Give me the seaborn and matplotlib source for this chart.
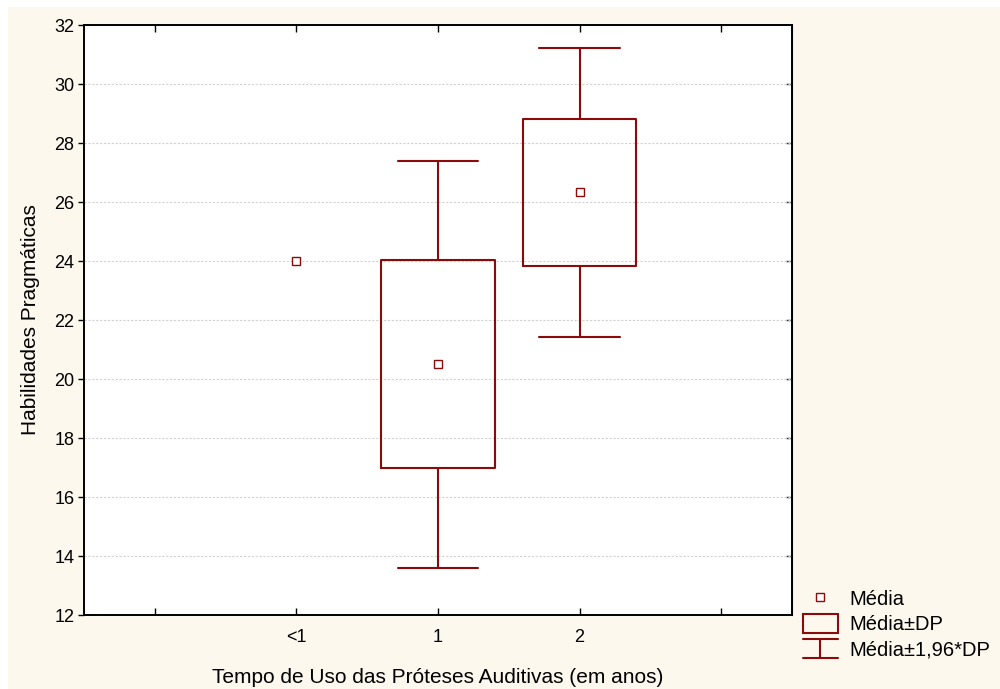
import numpy as np
import pandas as pd
import matplotlib
matplotlib.use('Agg')
import matplotlib.pyplot as plt
from matplotlib.patches import Rectangle
from matplotlib.lines import Line2D
from matplotlib.legend_handler import HandlerBase
import seaborn as sns

# ================== Data ==================
grupos = ['<1', '1', '2']
medias = [24.0, 20.5, 26.33]
# desvio padrao (grupo <1 tem um so caso, sem caixa)
desvios = [np.nan, 3.52, 2.5]

titulo_x = 'Tempo de Uso das Próteses Auditivas (em anos)'
titulo_y = 'Habilidades Pragmáticas'
yticks = [12, 14, 16, 18, 20, 22, 24, 26, 28, 30, 32]

# ================== Style ==================
vermelho = '#8b0a0a'
creme = '#fdf8ee'
sns.set_style('white')
plt.rcParams['font.family'] = ['Liberation Sans', 'DejaVu Sans']
plt.rcParams['font.size'] = 13
plt.rcParams['text.color'] = 'black'
plt.rcParams['axes.labelcolor'] = 'black'

fig = plt.figure(figsize=(10, 6.89), dpi=100, facecolor=creme)
# thin white strip on top / left like the original export
fig.patches.append(Rectangle((0, 1 - 7 / 689), 1, 7 / 689, transform=fig.transFigure,
                             facecolor='white', edgecolor='none', zorder=-1))
fig.patches.append(Rectangle((0, 0), 8 / 1000, 1, transform=fig.transFigure,
                             facecolor='white', edgecolor='none', zorder=-1))

ax = fig.add_axes([0.084, 0.1074, 0.708, 0.8563])
ax.set_facecolor('white')

df = pd.DataFrame({'grupo': grupos, 'media': medias, 'dp': desvios})

# Mean +- SD boxes and mean +- 1.96*SD whiskers
stats = []
pos = []
for i, row in df.iterrows():
    if np.isnan(row['dp']):
        continue
    m, s = row['media'], row['dp']
    stats.append(dict(med=m, q1=m - s, q3=m + s,
                      whislo=m - 1.96 * s, whishi=m + 1.96 * s, fliers=[]))
    pos.append(i)

linha = dict(color=vermelho, linewidth=1.5)
ax.bxp(stats, positions=pos, widths=0.8, capwidths=0.57, showfliers=False,
       manage_ticks=False, boxprops=linha, whiskerprops=linha, capprops=linha,
       medianprops=dict(linewidth=0, alpha=0))

# means
sns.pointplot(data=df, x='grupo', y='media', order=grupos, errorbar=None,
              linestyle='none', marker='s', color=vermelho, markersize=6,
              markerfacecolor='white', markeredgecolor=vermelho,
              markeredgewidth=1.0, ax=ax, zorder=5)

# ================== Axes ==================
ax.set_xlim(-1.5, 3.5)
ax.set_ylim(12, 32)
ax.set_xticks([-1, 0, 1, 2, 3])
ax.set_xticklabels(['', '<1', '1', '2', ''])
ax.set_yticks(yticks)
ax.yaxis.grid(True, linestyle=(0, (2, 1.5)), color='#d2d2d2', linewidth=0.8)
ax.xaxis.grid(False)
ax.set_axisbelow(True)

for sp in ax.spines.values():
    sp.set_visible(True)
    sp.set_color('black')
    sp.set_linewidth(1.4)

ax.tick_params(axis='x', direction='in', top=True, bottom=True, length=5,
               width=1, pad=10, colors='black')
ax.tick_params(axis='y', direction='out', left=True, length=4, width=1,
               pad=3, colors='black')
dir_y = ax.secondary_yaxis('right')
dir_y.set_yticks(yticks[1:-1])
dir_y.tick_params(direction='in', length=4, width=1, labelright=False)

ax.set_xlabel(titulo_x, labelpad=16, fontsize=15)
ax.set_ylabel(titulo_y, labelpad=10, fontsize=15)

# ================== Legend ==================
class HandlerWhisker(HandlerBase):
    def create_artists(self, legend, orig_handle, xd, yd, w, h, fontsize, trans):
        cx = -xd + w / 2
        y0, y1 = -yd, -yd + h
        x0 = -xd
        arts = [Line2D([x0, x0 + w], [y0, y0]), Line2D([x0, x0 + w], [y1, y1]),
                Line2D([cx, cx], [y0, y1])]
        for a in arts:
            a.set_color(vermelho)
            a.set_linewidth(1.5)
            a.set_transform(trans)
        return arts


class HandlerCaixa(HandlerBase):
    def create_artists(self, legend, orig_handle, xd, yd, w, h, fontsize, trans):
        r = Rectangle((-xd, -yd), w, h, facecolor='none', edgecolor=vermelho,
                      linewidth=1.5, transform=trans)
        return [r]


h_media = Line2D([], [], linestyle='none', marker='s', markersize=6,
                 markerfacecolor='white', markeredgecolor=vermelho, markeredgewidth=1.0)
h_caixa = Rectangle((0, 0), 1, 1)
h_whisk = Line2D([], [])
fig.legend([h_media, h_caixa, h_whisk], ['Média', 'Média±DP', 'Média±1,96*DP'],
           handler_map={h_caixa: HandlerCaixa(), h_whisk: HandlerWhisker()},
           loc='upper left', bbox_to_anchor=(0.803, 0.145), frameon=False,
           handlelength=1.72, handleheight=1.03, handletextpad=0.6,
           labelspacing=0.25, borderaxespad=0, borderpad=0, fontsize=14.5)

fig.savefig('out.png', dpi=100, facecolor=creme)
